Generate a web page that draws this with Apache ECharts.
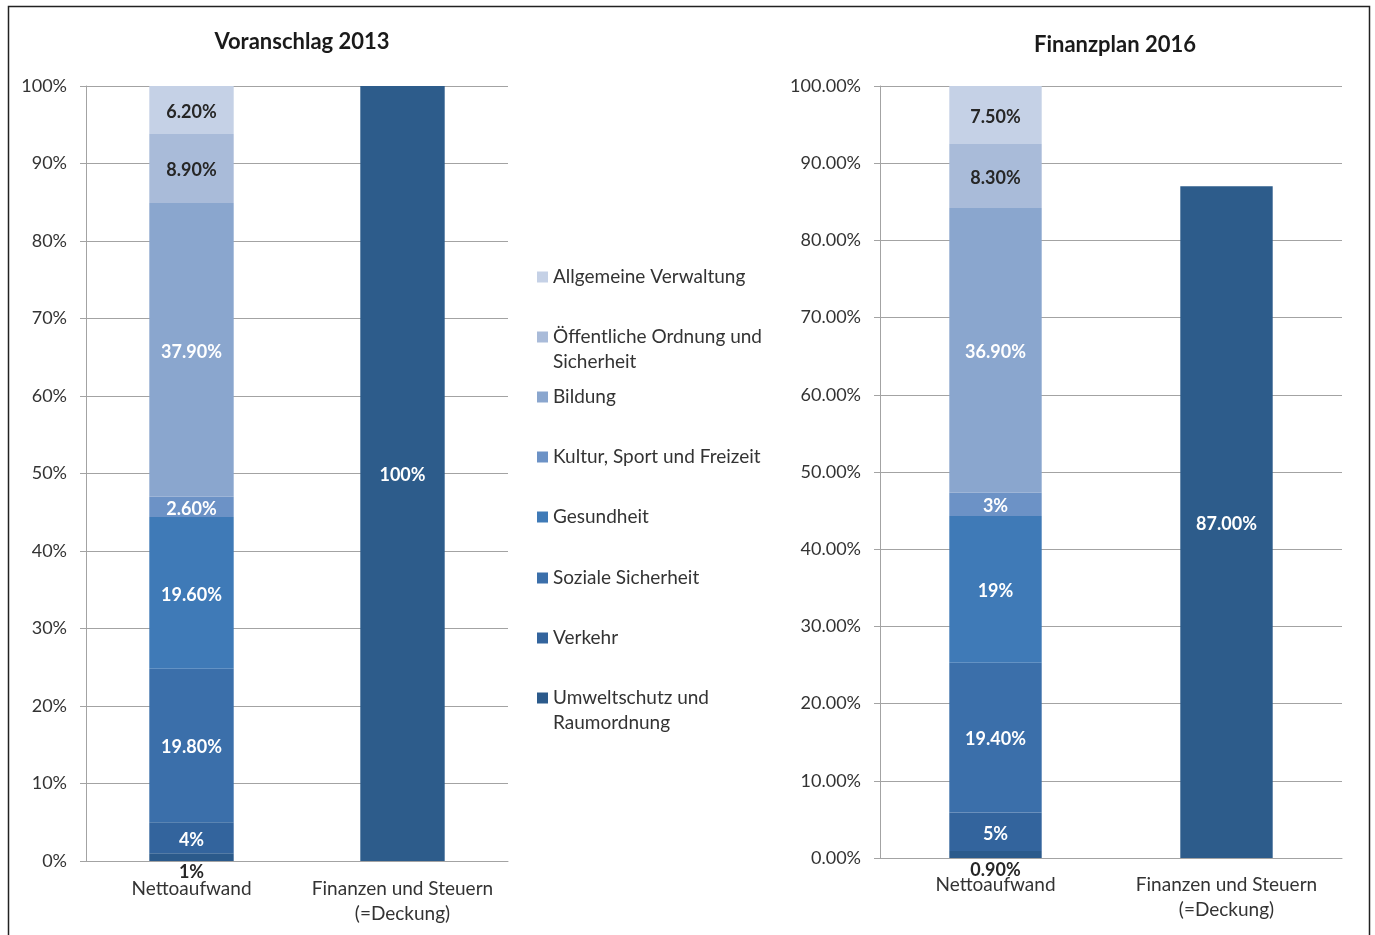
<!DOCTYPE html>
<html><head><meta charset="utf-8">
<script src="https://cdn.jsdelivr.net/npm/echarts@6/dist/echarts.min.js"></script>
<style>html,body{margin:0;padding:0;background:#fff}#c{width:1375px;height:935px}</style>
</head><body><div id="c"></div>
<script>
// ---- data ----
const categories = ['Nettoaufwand', 'Finanzen und Steuern\n(=Deckung)'];
const seriesNames = ['Umweltschutz und Raumordnung', 'Verkehr', 'Soziale Sicherheit', 'Gesundheit',
  'Kultur, Sport und Freizeit', 'Bildung', 'Öffentliche Ordnung und Sicherheit', 'Allgemeine Verwaltung'];
const legendLabels = {
  'Umweltschutz und Raumordnung': 'Umweltschutz und\nRaumordnung',
  'Öffentliche Ordnung und Sicherheit': 'Öffentliche Ordnung und\nSicherheit'
};
const values2013 = [1, 4, 19.8, 19.6, 2.6, 37.9, 8.9, 6.2];
const decimals2013 = [0, 0, 2, 2, 2, 2, 2, 2];
const values2016 = [0.9, 5, 19.4, 19, 3, 36.9, 8.3, 7.5];
const decimals2016 = [2, 0, 2, 0, 0, 2, 2, 2];
const deckungName = 'Finanzen und Steuern';
const deckung2013 = 100, deckungDec2013 = 0;
const deckung2016 = 87, deckungDec2016 = 2;
const titles = ['Voranschlag 2013', 'Finanzplan 2016'];
const yTickDecimals = [0, 2];

// ---- styles ----
const colors = ['#2B5A8B', '#33649D', '#3B6FAA', '#3F7AB7', '#6C92C6', '#8AA6CE', '#A9BBD9', '#C5D1E6'];
const deckungColor = '#2D5C8B';
const darkLabel = [true, false, false, false, false, false, true, true];
const FONT = 'Lato, "Open Sans", sans-serif';
const gridCol = '#a3a3a3';

const grids = [
  {left: 86, right: 867, top: 86, bottom: 74},
  {left: 880, right: 33, top: 86, bottom: 77}
];

function mkAxes(i) {
  return {
    x: {type: 'category', gridIndex: i, data: categories,
      axisLine: {lineStyle: {color: gridCol}}, axisTick: {length: 6, lineStyle: {color: gridCol}},
      axisLabel: {color: '#333', fontFamily: FONT, fontSize: 19, lineHeight: 25, margin: i ? 14 : 15, interval: 0}},
    y: {type: 'value', gridIndex: i, min: 0, max: 100, interval: 10,
      axisLine: {show: true, lineStyle: {color: gridCol}},
      axisTick: {show: true, length: 6, lineStyle: {color: gridCol}},
      splitLine: {lineStyle: {color: gridCol}},
      axisLabel: {color: '#333', fontFamily: FONT, fontSize: 18, margin: 19,
        formatter: v => v.toFixed(yTickDecimals[i]) + '%'}}
  };
}
const a0 = mkAxes(0), a1 = mkAxes(1);

const series = [];
[[values2013, decimals2013], [values2016, decimals2016]].forEach(([vals, decs], gi) => {
  seriesNames.forEach((name, k) => {
    const isBottom = k === 0;
    series.push({
      name, type: 'bar', stack: 's' + gi, xAxisIndex: gi, yAxisIndex: gi,
      barWidth: '40%', itemStyle: {color: colors[k]},
      data: [vals[k], '-'],
      label: {show: true, position: isBottom ? 'bottom' : 'inside', distance: isBottom ? (gi ? 3 : 2) : 5,
        offset: isBottom ? [0, 0] : [0, 2],
        color: darkLabel[k] ? '#262626' : '#fff', fontFamily: FONT, fontWeight: 'bold', fontSize: 18,
        formatter: p => vals[k].toFixed(decs[k]) + '%'}
    });
  });
  const dv = gi ? deckung2016 : deckung2013, dd = gi ? deckungDec2016 : deckungDec2013;
  series.push({
    name: deckungName, type: 'bar', stack: 's' + gi, xAxisIndex: gi, yAxisIndex: gi,
    barWidth: '40%', itemStyle: {color: deckungColor}, data: ['-', dv],
    label: {show: true, position: 'inside', offset: [0, 2], color: '#fff', fontFamily: FONT, fontWeight: 'bold', fontSize: 18,
      formatter: p => dv.toFixed(dd) + '%'}
  });
});

// legends: top-to-bottom order
const legendOrder = seriesNames.slice().reverse();
const legendCenters = [277, 337, 397, 457, 517, 578, 638, 698];
const legends = legendOrder.map((name, i) => {
  const two = !!legendLabels[name];
  return {
    left: 537, top: two ? legendCenters[i] - 37.5 : legendCenters[i] - 12.5, padding: 0,
    itemWidth: 11, itemHeight: 11, icon: 'rect', selectedMode: false,
    data: [name],
    formatter: n => legendLabels[n] ? '\n' + legendLabels[n] : n,
    textStyle: {color: '#333', fontFamily: FONT, fontSize: 19, lineHeight: 25}
  };
});

const chart = echarts.init(document.getElementById('c'), null, {renderer: 'canvas'});
chart.setOption({
  animation: false,
  backgroundColor: '#fff',
  title: [
    {text: titles[0], left: 297, top: 26, textAlign: 'center', textStyle: {fontFamily: FONT, fontSize: 22, fontWeight: 'bold', color: '#1a1a1a'}},
    {text: titles[1], left: 1110, top: 29, textAlign: 'center', textStyle: {fontFamily: FONT, fontSize: 22, fontWeight: 'bold', color: '#1a1a1a'}}
  ],
  grid: grids,
  xAxis: [a0.x, a1.x],
  yAxis: [a0.y, a1.y],
  legend: legends,
  series,
  graphic: [{type: 'rect', shape: {x: 8.5, y: 6.5, width: 1361, height: 1000}, style: {fill: 'none', stroke: '#222', lineWidth: 1.5}, silent: true}]
});
</script></body></html>
